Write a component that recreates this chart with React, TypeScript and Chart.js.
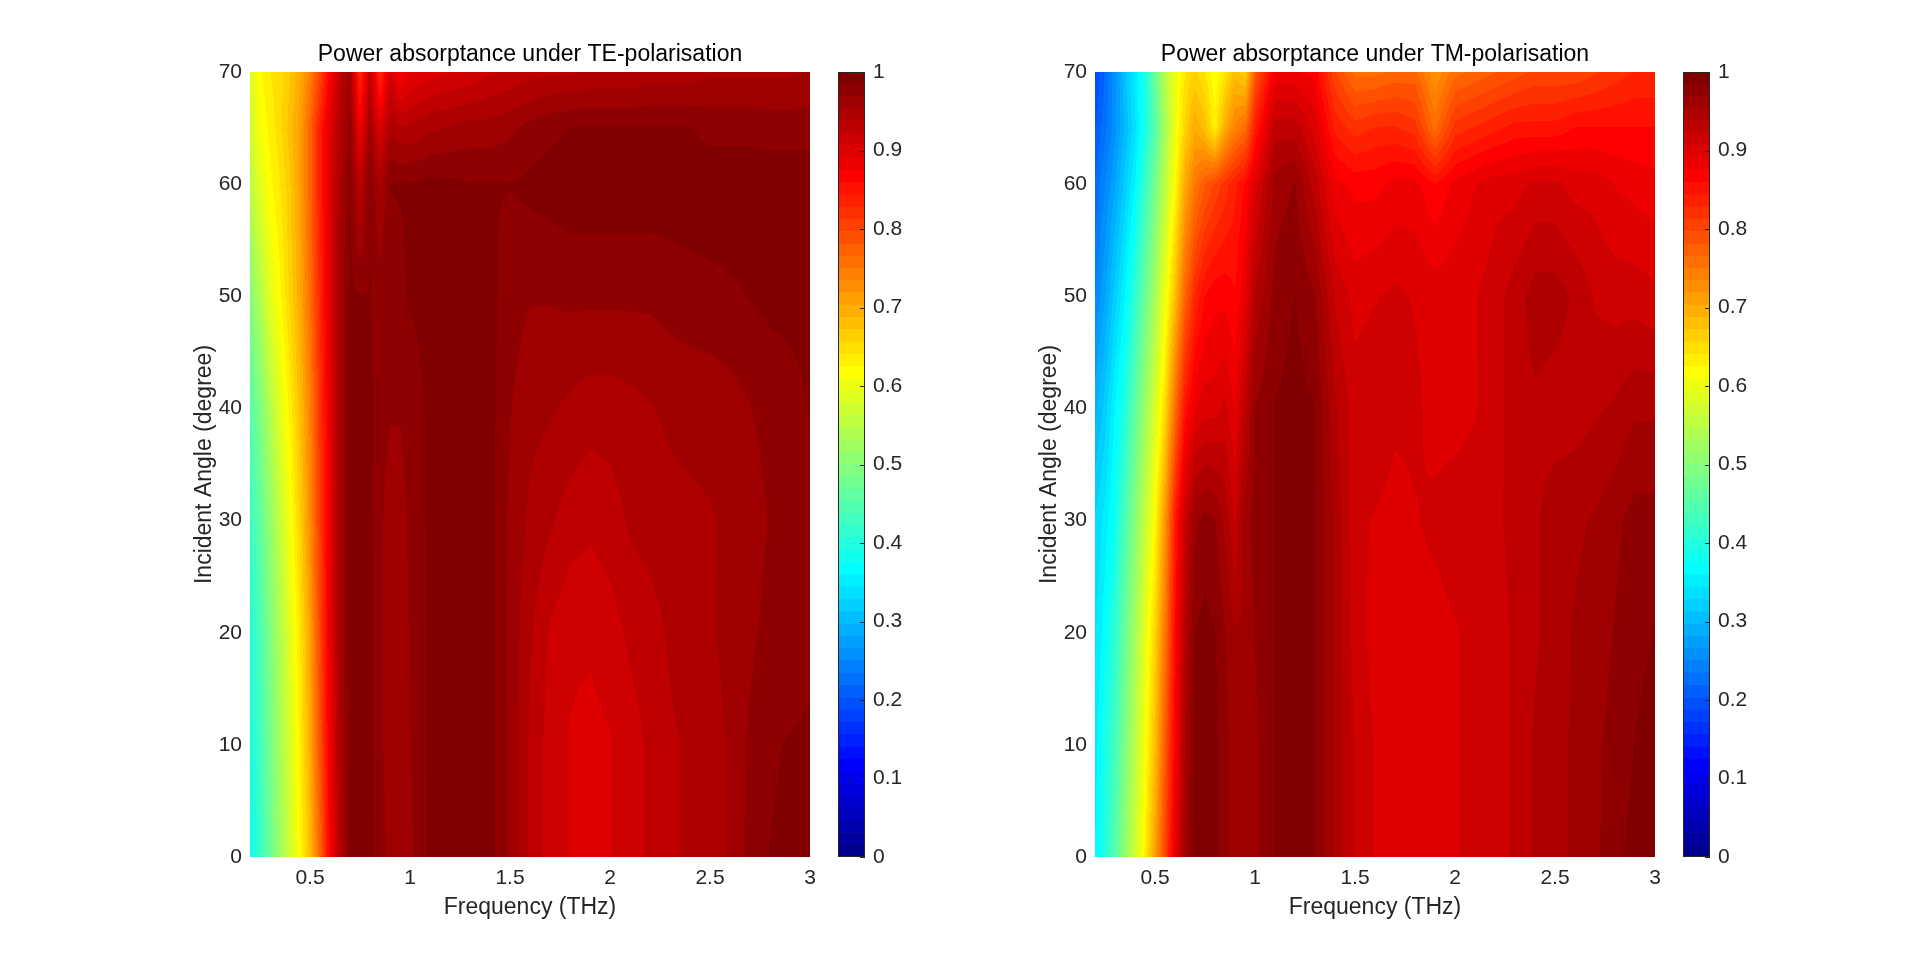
import React, { useEffect, useRef } from "react";
import { Chart, registerables } from "chart.js";

Chart.register(...registerables);

// ---------- data ----------
const FREQS = [0.2, 0.25, 0.3, 0.35, 0.4, 0.45, 0.5, 0.55, 0.6, 0.65, 0.7, 0.75, 0.8, 0.85, 0.9, 0.95, 1.0,
  1.1, 1.2, 1.3, 1.4, 1.5, 1.6, 1.7, 1.8, 1.9, 2.0, 2.1, 2.2, 2.3, 2.4, 2.5, 2.6, 2.7, 2.8, 2.9, 3.0];
const ANGLES = [0, 10, 20, 30, 40, 50, 60, 65, 70];
const X_TICKS = [0.5, 1, 1.5, 2, 2.5, 3];
const Y_TICKS = [0, 10, 20, 30, 40, 50, 60, 70];
const CB_TICKS = [0, 0.1, 0.2, 0.3, 0.4, 0.5, 0.6, 0.7, 0.8, 0.9, 1];

// TE absorptance, one row per incident angle
const TE_00 = [0.38, 0.42, 0.47, 0.52, 0.57, 0.62, 0.68, 0.77, 0.87, 0.94, 0.99, 0.995, 0.99, 0.975, 0.965, 0.96, 0.965, 0.988, 0.992, 0.992, 0.99, 0.965, 0.935, 0.915, 0.905, 0.9, 0.905, 0.915, 0.925, 0.935, 0.94, 0.945, 0.955, 0.975, 0.985, 0.988, 0.988];
const TE_10 = [0.39, 0.43, 0.48, 0.53, 0.58, 0.63, 0.70, 0.79, 0.88, 0.95, 0.99, 0.995, 0.99, 0.972, 0.962, 0.96, 0.968, 0.988, 0.992, 0.992, 0.99, 0.965, 0.935, 0.915, 0.905, 0.9, 0.905, 0.915, 0.925, 0.935, 0.94, 0.945, 0.955, 0.972, 0.982, 0.986, 0.988];
const TE_20 = [0.40, 0.44, 0.49, 0.54, 0.59, 0.64, 0.71, 0.80, 0.89, 0.955, 0.99, 0.995, 0.99, 0.972, 0.962, 0.96, 0.97, 0.988, 0.992, 0.992, 0.99, 0.965, 0.94, 0.92, 0.91, 0.91, 0.915, 0.925, 0.93, 0.94, 0.945, 0.95, 0.96, 0.965, 0.975, 0.97, 0.98];
const TE_30 = [0.42, 0.46, 0.51, 0.56, 0.61, 0.66, 0.73, 0.81, 0.89, 0.955, 0.99, 0.995, 0.988, 0.972, 0.962, 0.962, 0.972, 0.988, 0.992, 0.992, 0.99, 0.965, 0.95, 0.94, 0.93, 0.925, 0.93, 0.94, 0.945, 0.948, 0.95, 0.952, 0.955, 0.96, 0.97, 0.978, 0.982];
const TE_40 = [0.45, 0.49, 0.54, 0.59, 0.63, 0.68, 0.74, 0.82, 0.89, 0.955, 0.99, 0.992, 0.988, 0.975, 0.97, 0.97, 0.975, 0.988, 0.992, 0.992, 0.99, 0.97, 0.958, 0.955, 0.95, 0.945, 0.945, 0.948, 0.952, 0.956, 0.958, 0.958, 0.962, 0.968, 0.975, 0.98, 0.985];
const TE_50 = [0.50, 0.54, 0.59, 0.62, 0.66, 0.70, 0.76, 0.83, 0.90, 0.955, 0.99, 0.985, 0.985, 0.978, 0.978, 0.982, 0.986, 0.99, 0.994, 0.994, 0.99, 0.975, 0.97, 0.97, 0.972, 0.972, 0.972, 0.972, 0.972, 0.975, 0.978, 0.98, 0.982, 0.985, 0.988, 0.988, 0.988];
const TE_60 = [0.55, 0.59, 0.62, 0.64, 0.67, 0.71, 0.77, 0.84, 0.90, 0.95, 0.985, 0.93, 0.985, 0.95, 0.985, 0.985, 0.985, 0.99, 0.988, 0.985, 0.985, 0.985, 0.988, 0.992, 0.994, 0.994, 0.994, 0.994, 0.994, 0.994, 0.994, 0.994, 0.994, 0.994, 0.994, 0.994, 0.994];
const TE_65 = [0.57, 0.61, 0.63, 0.65, 0.68, 0.71, 0.77, 0.84, 0.90, 0.94, 0.975, 0.88, 0.96, 0.9, 0.95, 0.94, 0.94, 0.95, 0.955, 0.96, 0.96, 0.965, 0.975, 0.98, 0.985, 0.985, 0.985, 0.985, 0.985, 0.985, 0.985, 0.98, 0.98, 0.98, 0.978, 0.978, 0.978];
const TE_70 = [0.58, 0.62, 0.64, 0.65, 0.67, 0.70, 0.74, 0.80, 0.87, 0.93, 0.96, 0.82, 0.93, 0.82, 0.91, 0.87, 0.89, 0.9, 0.905, 0.91, 0.92, 0.925, 0.93, 0.935, 0.935, 0.94, 0.94, 0.94, 0.945, 0.945, 0.945, 0.95, 0.95, 0.95, 0.95, 0.95, 0.955];
const TE_GRID = [TE_00, TE_10, TE_20, TE_30, TE_40, TE_50, TE_60, TE_65, TE_70];

// TM absorptance, one row per incident angle
const TM_00 = [0.36, 0.40, 0.45, 0.51, 0.57, 0.63, 0.71, 0.80, 0.89, 0.96, 0.99, 0.995, 0.99, 0.975, 0.96, 0.96, 0.965, 0.985, 0.99, 0.985, 0.95, 0.92, 0.905, 0.895, 0.9, 0.9, 0.905, 0.91, 0.915, 0.925, 0.94, 0.95, 0.955, 0.965, 0.98, 0.99, 0.99];
const TM_10 = [0.35, 0.39, 0.43, 0.49, 0.55, 0.61, 0.68, 0.78, 0.87, 0.95, 0.99, 0.995, 0.99, 0.975, 0.96, 0.96, 0.965, 0.985, 0.99, 0.985, 0.95, 0.92, 0.905, 0.9, 0.9, 0.9, 0.905, 0.91, 0.915, 0.925, 0.94, 0.95, 0.955, 0.965, 0.975, 0.985, 0.99];
const TM_20 = [0.34, 0.37, 0.41, 0.47, 0.53, 0.59, 0.66, 0.75, 0.86, 0.94, 0.985, 0.99, 0.985, 0.97, 0.955, 0.955, 0.97, 0.985, 0.99, 0.985, 0.95, 0.915, 0.9, 0.9, 0.9, 0.9, 0.905, 0.91, 0.915, 0.925, 0.935, 0.945, 0.955, 0.96, 0.97, 0.98, 0.985];
const TM_30 = [0.33, 0.35, 0.38, 0.44, 0.50, 0.56, 0.62, 0.72, 0.84, 0.92, 0.965, 0.975, 0.97, 0.95, 0.92, 0.96, 0.975, 0.985, 0.99, 0.985, 0.95, 0.91, 0.905, 0.9, 0.905, 0.91, 0.915, 0.915, 0.92, 0.925, 0.935, 0.945, 0.95, 0.955, 0.965, 0.975, 0.975];
const TM_40 = [0.29, 0.32, 0.36, 0.40, 0.46, 0.52, 0.58, 0.65, 0.76, 0.85, 0.89, 0.90, 0.90, 0.91, 0.89, 0.93, 0.97, 0.985, 0.99, 0.985, 0.94, 0.915, 0.92, 0.91, 0.91, 0.9, 0.9, 0.905, 0.915, 0.93, 0.935, 0.93, 0.93, 0.935, 0.94, 0.95, 0.95];
const TM_50 = [0.25, 0.28, 0.32, 0.36, 0.41, 0.47, 0.53, 0.60, 0.68, 0.77, 0.83, 0.86, 0.87, 0.87, 0.86, 0.89, 0.94, 0.975, 0.985, 0.97, 0.92, 0.9, 0.905, 0.91, 0.905, 0.9, 0.9, 0.905, 0.915, 0.93, 0.945, 0.945, 0.935, 0.92, 0.915, 0.915, 0.91];
const TM_60 = [0.22, 0.25, 0.28, 0.32, 0.36, 0.42, 0.48, 0.55, 0.62, 0.70, 0.75, 0.78, 0.80, 0.82, 0.84, 0.86, 0.90, 0.96, 0.97, 0.93, 0.88, 0.87, 0.87, 0.88, 0.88, 0.86, 0.88, 0.89, 0.9, 0.9, 0.91, 0.91, 0.9, 0.9, 0.89, 0.885, 0.88];
const TM_65 = [0.20, 0.23, 0.26, 0.30, 0.34, 0.39, 0.45, 0.53, 0.60, 0.66, 0.70, 0.68, 0.63, 0.70, 0.74, 0.76, 0.84, 0.93, 0.93, 0.9, 0.84, 0.82, 0.83, 0.83, 0.82, 0.76, 0.82, 0.83, 0.84, 0.85, 0.85, 0.85, 0.86, 0.86, 0.86, 0.86, 0.86];
const TM_70 = [0.185, 0.22, 0.26, 0.31, 0.35, 0.39, 0.47, 0.55, 0.60, 0.64, 0.66, 0.64, 0.61, 0.64, 0.68, 0.66, 0.78, 0.88, 0.88, 0.87, 0.80, 0.76, 0.76, 0.77, 0.77, 0.72, 0.76, 0.77, 0.78, 0.79, 0.8, 0.8, 0.8, 0.81, 0.82, 0.83, 0.83];
const TM_GRID = [TM_00, TM_10, TM_20, TM_30, TM_40, TM_50, TM_60, TM_65, TM_70];

const TE_TITLE = "Power absorptance under TE-polarisation";
const TM_TITLE = "Power absorptance under TM-polarisation";
const X_LABEL = "Frequency (THz)";
const Y_LABEL = "Incident Angle (degree)";

// ---------- style ----------
const FONT = "'Liberation Sans', Arial, Helvetica, sans-serif";
const AXIS_COLOR = "#262626";
const TICK_SIZE = 21;
const LABEL_SIZE = 23;
const CMAP_STEPS = 64;

// MATLAB-style jet colormap
function jetColormap(m: number): number[][] {
  const n = Math.ceil(m / 4);
  const u: number[] = [];
  for (let i = 1; i <= n; i++) u.push(i / n);
  for (let i = 1; i < n; i++) u.push(1);
  for (let i = n; i >= 1; i--) u.push(i / n);
  const g0 = Math.ceil(n / 2) - (m % 4 === 1 ? 1 : 0);
  const R = new Array(m).fill(0), G = new Array(m).fill(0), B = new Array(m).fill(0);
  for (let k = 0; k < u.length; k++) {
    const gi = g0 + k + 1;
    if (gi >= 1 && gi <= m) G[gi - 1] = u[k];
    const ri = gi + n;
    if (ri >= 1 && ri <= m) R[ri - 1] = u[k];
    const bi = gi - n;
    if (bi >= 1 && bi <= m) B[bi - 1] = u[k];
  }
  return R.map((_, i) => [Math.round(R[i] * 255), Math.round(G[i] * 255), Math.round(B[i] * 255)]);
}
const JET = jetColormap(CMAP_STEPS);

function locate(arr: number[], v: number): [number, number] {
  const last = arr.length - 1;
  if (v <= arr[0]) return [0, 0];
  if (v >= arr[last]) return [last - 1, 1];
  let i = 0;
  while (arr[i + 1] < v) i++;
  return [i, (v - arr[i]) / (arr[i + 1] - arr[i])];
}

function makeHeatmapPlugin(grid: number[][], title: string) {
  return {
    id: "heatmap",
    beforeDatasetsDraw(chart: any) {
      const { left, top, right, bottom } = chart.chartArea;
      const w = Math.round(right - left);
      const h = Math.round(bottom - top);
      const xs = chart.scales.x;
      const ys = chart.scales.y;
      const colI = new Int32Array(w), colT = new Float32Array(w);
      for (let px = 0; px < w; px++) {
        const [i, t] = locate(FREQS, xs.getValueForPixel(left + px + 0.5));
        colI[px] = i; colT[px] = t;
      }
      const off = document.createElement("canvas");
      off.width = w; off.height = h;
      const octx = off.getContext("2d")!;
      const img = octx.createImageData(w, h);
      for (let py = 0; py < h; py++) {
        const [j, s] = locate(ANGLES, ys.getValueForPixel(top + py + 0.5));
        const r0 = grid[j], r1 = grid[j + 1];
        for (let px = 0; px < w; px++) {
          const i = colI[px], t = colT[px];
          const a = r0[i] * (1 - t) + r0[i + 1] * t;
          const b = r1[i] * (1 - t) + r1[i + 1] * t;
          const v = a * (1 - s) + b * s;
          let lvl = Math.floor(v * CMAP_STEPS);
          if (lvl < 0) lvl = 0;
          if (lvl > CMAP_STEPS - 1) lvl = CMAP_STEPS - 1;
          const c = JET[lvl];
          const k = (py * w + px) * 4;
          img.data[k] = c[0]; img.data[k + 1] = c[1]; img.data[k + 2] = c[2]; img.data[k + 3] = 255;
        }
      }
      octx.putImageData(img, 0, 0);
      const ctx = chart.ctx;
      ctx.save();
      ctx.imageSmoothingEnabled = false;
      ctx.drawImage(off, left, top, w, h);
      ctx.restore();
    },
    afterDraw(chart: any) {
      const { left, right, top } = chart.chartArea;
      const ctx = chart.ctx;
      ctx.save();
      ctx.font = `${LABEL_SIZE}px ${FONT}`;
      ctx.fillStyle = "#000000";
      ctx.textAlign = "center";
      ctx.textBaseline = "alphabetic";
      ctx.fillText(title, (left + right) / 2, top - 11.3);
      ctx.restore();
    },
  };
}

function makeHeatmap(canvas: HTMLCanvasElement, grid: number[][], title: string) {
  const points: { x: number; y: number }[] = [];
  ANGLES.forEach((a) => FREQS.forEach((f) => points.push({ x: f, y: a })));
  return new Chart(canvas, {
    type: "scatter",
    data: { datasets: [{ data: points, pointRadius: 0, pointHoverRadius: 0 }] },
    options: {
      animation: false,
      responsive: false,
      events: [],
      layout: { padding: { top: 52, right: 20, left: 0, bottom: 0 } },
      plugins: { legend: { display: false }, tooltip: { enabled: false }, title: { display: false } },
      scales: {
        x: {
          type: "linear",
          min: 0.2,
          max: 3,
          border: { display: false },
          grid: { display: false, drawTicks: false },
          afterFit: (s: any) => { s.height = 93; },
          afterBuildTicks: (s: any) => { s.ticks = X_TICKS.map((v) => ({ value: v })); },
          ticks: {
            color: AXIS_COLOR,
            font: { family: FONT, size: TICK_SIZE },
            padding: 9,
            maxRotation: 0,
            autoSkip: false,
            callback: (v: any) => String(v),
          },
          title: {
            display: true,
            text: X_LABEL,
            color: AXIS_COLOR,
            font: { family: FONT, size: LABEL_SIZE },
            padding: { top: 0, bottom: 28.2 },
          },
        },
        y: {
          type: "linear",
          min: 0,
          max: 70,
          border: { display: false },
          grid: { display: false, drawTicks: false },
          afterFit: (s: any) => { s.width = 70; },
          afterBuildTicks: (s: any) => { s.ticks = Y_TICKS.map((v) => ({ value: v })); },
          ticks: {
            color: AXIS_COLOR,
            font: { family: FONT, size: TICK_SIZE },
            padding: 8,
            autoSkip: false,
            callback: (v: any) => String(v),
          },
          title: {
            display: true,
            text: Y_LABEL,
            color: AXIS_COLOR,
            font: { family: FONT, size: LABEL_SIZE },
            padding: { top: 10.8, bottom: 0 },
          },
        },
      },
    } as any,
    plugins: [makeHeatmapPlugin(grid, title)],
  });
}

const colorbarFrame = {
  id: "colorbarFrame",
  afterDatasetsDraw(chart: any) {
    const { left, top, right, bottom } = chart.chartArea;
    const ys = chart.scales.y;
    const ctx = chart.ctx;
    ctx.save();
    ctx.strokeStyle = AXIS_COLOR;
    ctx.lineWidth = 1;
    ctx.strokeRect(left + 0.5, top + 0.5, right - left - 1, bottom - top - 1);
    ctx.beginPath();
    CB_TICKS.forEach((v) => {
      const y = Math.round(ys.getPixelForValue(v)) + 0.5;
      ctx.moveTo(right - 5, y);
      ctx.lineTo(right, y);
    });
    ctx.stroke();
    ctx.restore();
  },
};

function makeColorbar(canvas: HTMLCanvasElement) {
  const datasets = JET.map((c, i) => ({
    data: [[i / CMAP_STEPS, (i + 1) / CMAP_STEPS]],
    backgroundColor: `rgb(${c[0]},${c[1]},${c[2]})`,
    borderWidth: 0,
    grouped: false,
    barPercentage: 1,
    categoryPercentage: 1,
  }));
  return new Chart(canvas, {
    type: "bar",
    data: { labels: ["colorbar"], datasets },
    options: {
      animation: false,
      responsive: false,
      events: [],
      layout: { padding: { top: 52, right: 0, left: 8, bottom: 93 } },
      plugins: { legend: { display: false }, tooltip: { enabled: false } },
      scales: {
        x: { display: false },
        y: {
          position: "right",
          min: 0,
          max: 1,
          border: { display: false },
          grid: { display: false, drawTicks: false },
          afterFit: (s: any) => { s.width = 55; },
          afterBuildTicks: (s: any) => { s.ticks = CB_TICKS.map((v) => ({ value: v })); },
          ticks: {
            color: AXIS_COLOR,
            font: { family: FONT, size: TICK_SIZE },
            padding: 8,
            autoSkip: false,
            callback: (v: any) => String(v),
          },
        },
      },
    } as any,
    plugins: [colorbarFrame],
  });
}

export default function App() {
  const teRef = useRef<HTMLCanvasElement>(null);
  const teCbRef = useRef<HTMLCanvasElement>(null);
  const tmRef = useRef<HTMLCanvasElement>(null);
  const tmCbRef = useRef<HTMLCanvasElement>(null);

  useEffect(() => {
    const charts = [
      makeHeatmap(teRef.current!, TE_GRID, TE_TITLE),
      makeColorbar(teCbRef.current!),
      makeHeatmap(tmRef.current!, TM_GRID, TM_TITLE),
      makeColorbar(tmCbRef.current!),
    ];
    return () => charts.forEach((c) => c.destroy());
  }, []);

  const abs = (left: number, width: number): React.CSSProperties => ({
    position: "absolute",
    left,
    top: 20,
    width,
    height: 930,
  });

  return (
    <div style={{ position: "fixed", left: 0, top: 0, width: 1920, height: 963, background: "#ffffff" }}>
      <canvas ref={teRef} width={650} height={930} style={abs(180, 650)} />
      <canvas ref={teCbRef} width={90} height={930} style={abs(830, 90)} />
      <canvas ref={tmRef} width={650} height={930} style={abs(1025, 650)} />
      <canvas ref={tmCbRef} width={90} height={930} style={abs(1675, 90)} />
    </div>
  );
}
